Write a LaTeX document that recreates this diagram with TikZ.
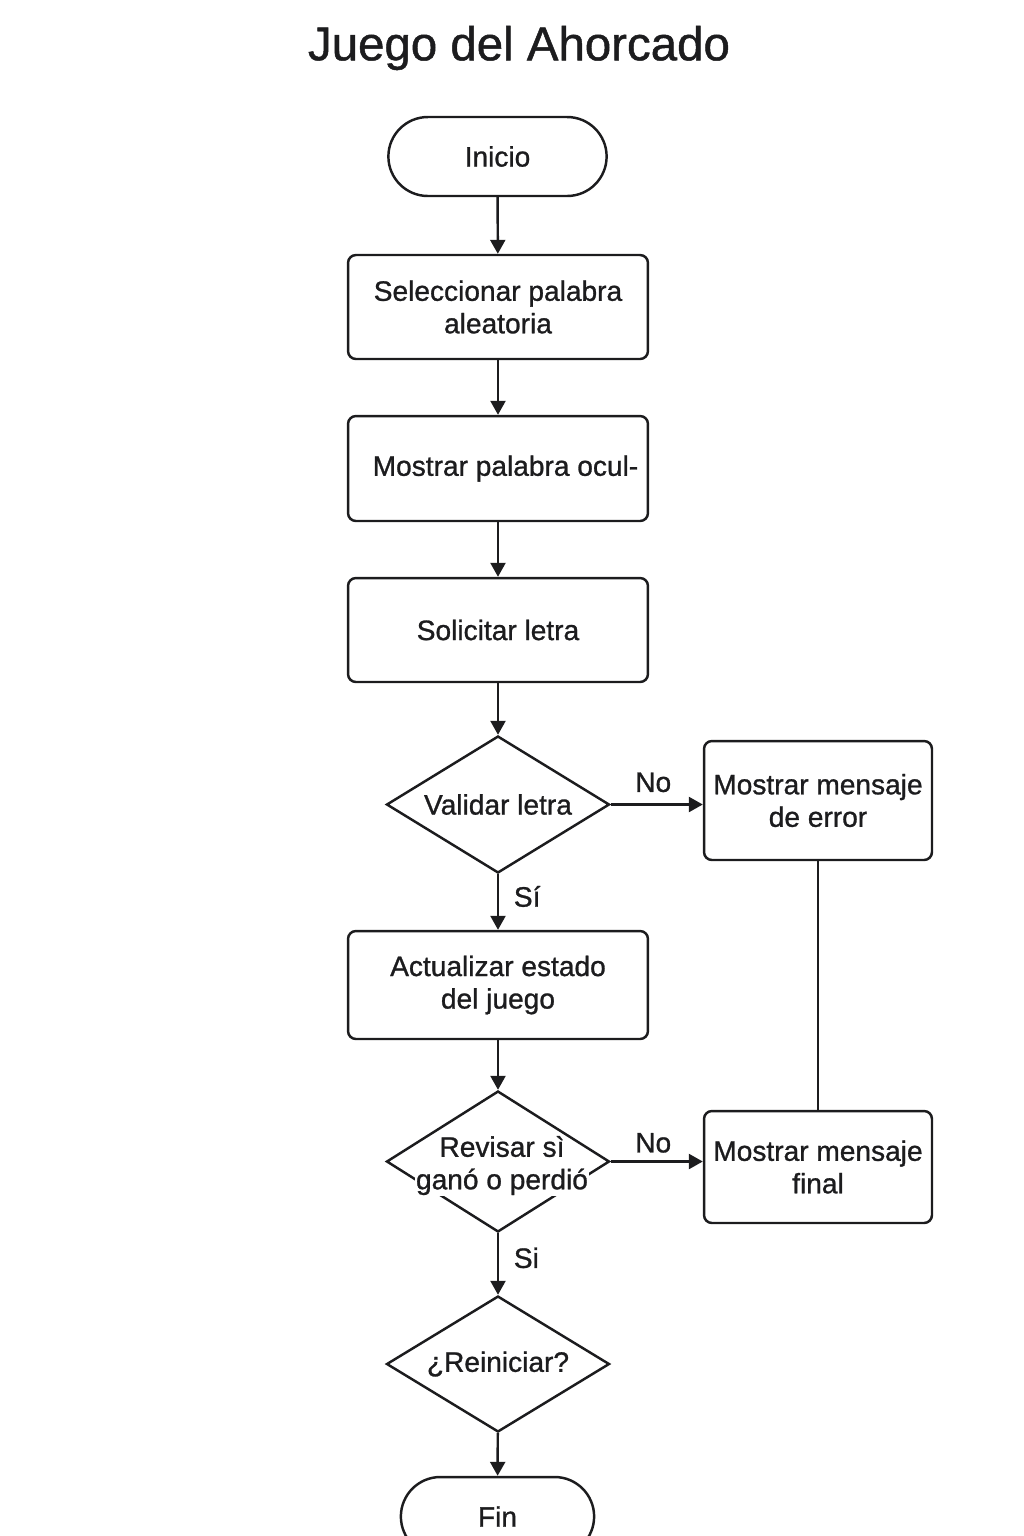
\documentclass[tikz,border=0pt]{standalone}
\usepackage{fontspec}
\setmainfont{Liberation Sans}
\newfontfamily\medfont{Liberation Sans}[FakeBold=1.0]
\usetikzlibrary{arrows.meta,positioning,shapes.geometric,shapes.misc}
\definecolor{Ink}{HTML}{1C1C1E}
\setlength{\fboxsep}{0.5pt}
\tikzset{
  txt/.style={font=\medfont\fontsize{16}{18.5}\selectfont, text=Ink},
  termbox/.style={rounded rectangle, draw=Ink, line width=1.4pt, minimum width=4.6cm, minimum height=1.58cm, txt},
  procbox/.style={rounded corners=4.5pt, draw=Ink, line width=1.4pt, minimum width=6cm, minimum height=2.08cm, align=center, txt},
  sidebox/.style={procbox, minimum width=4.56cm, minimum height=2.38cm},
  decbox/.style={diamond, aspect=1.63, inner sep=0pt, draw=Ink, line width=1.4pt, minimum width=4.46cm, minimum height=2.74cm, align=center, txt},
  arr/.style={-{Triangle[length=2.8mm,width=3mm]}, line width=1.4pt, draw=Ink},
  plain/.style={line width=1.4pt, draw=Ink}
}
\begin{document}
\begin{tikzpicture}[x=0.02cm,y=-0.02cm]
\useasboundingbox (0,0) rectangle (1024,1536);
\node[txt, font=\medfont\fontsize{27}{30}\selectfont] (title) at (519,48) {Juego del Ahorcado};
% main column
\node[termbox] (ini) at (497.5,156.5) {Inicio};
\node[procbox] (sel) at (498,307) {Seleccionar palabra\\aleatoria};
\node[procbox, minimum height=2.1cm] (most) at (498,468.5) {\hspace*{0.3cm}Mostrar palabra ocul-};
\node[procbox] (sol) at (498,630) {Solicitar letra};
\node[decbox] (val) at (498,804.5) {Validar letra};
\node[procbox, minimum height=2.16cm] (act) at (498,985) {Actualizar estado\\del juego};
\node[decbox, minimum height=2.82cm] (rev) at (498,1161.5) {};
\node[txt, inner sep=0pt, align=center] (revtxt) at (502,1166) {Revisar sì\\\colorbox{white}{ganó o perdió}};
\node[decbox, minimum height=2.72cm] (rein) at (498,1364) {¿Reiniciar?};
\node[termbox, minimum width=4.1cm] (fin) at (497.5,1516.5) {Fin};
% side column
\node[sidebox] (err) at (818,800.5) {Mostrar mensaje\\de error};
\node[sidebox, minimum height=2.24cm] (final) at (818,1167) {Mostrar mensaje\\final};
% connectors
\draw[arr] (ini) -- (sel);
\draw[arr] (sel) -- (most);
\draw[arr] (most) -- (sol);
\draw[arr] (sol) -- (val);
\draw[arr] (val) -- node[txt, right, pos=0.4, xshift=5pt] {Sí} (act);
\draw[arr] (val.east) -- node[txt, above, xshift=-2pt, yshift=3pt] {No} (val.east -| err.west);
\draw[plain] (err) -- (final);
\draw[arr] (act) -- (rev);
\draw[arr] (rev.east) -- node[txt, above, xshift=-2pt, yshift=1pt] {No} (rev.east -| final.west);
\draw[arr] (rev) -- node[txt, right, pos=0.4, xshift=5pt] {Si} (rein);
\draw[arr] (rein) -- (fin);
\end{tikzpicture}
\end{document}
